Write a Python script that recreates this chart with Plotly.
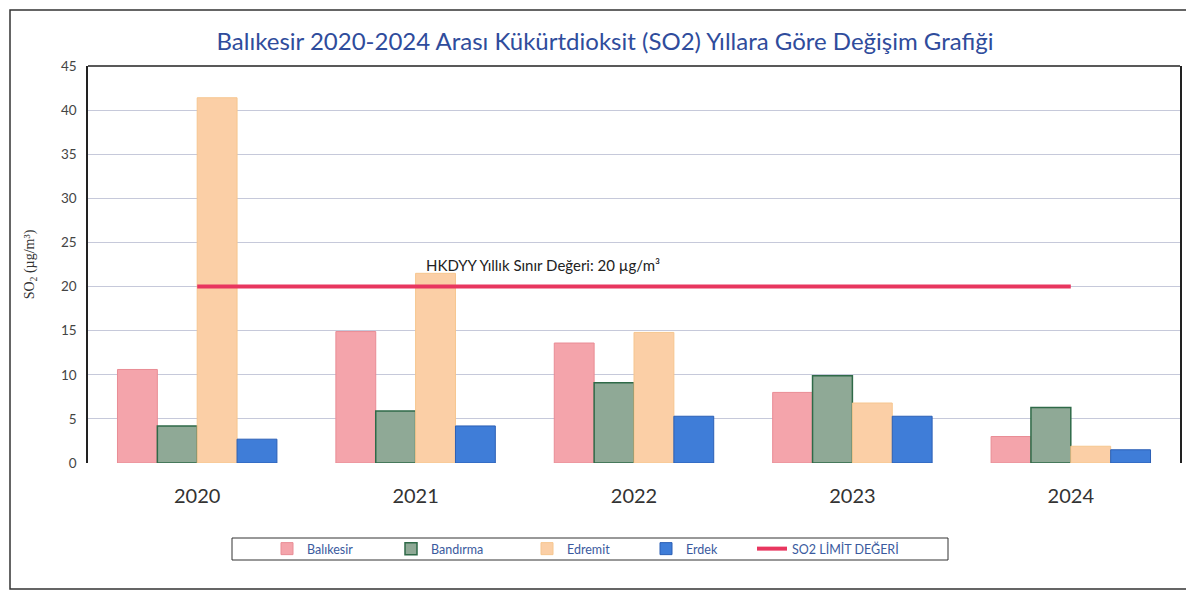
import plotly.graph_objects as go

years = ["2020", "2021", "2022", "2023", "2024"]
balikesir = [10.6, 14.9, 13.6, 8.0, 3.0]
bandirma = [4.2, 5.9, 9.1, 9.9, 6.3]
edremit = [41.4, 21.5, 14.8, 6.8, 1.9]
erdek = [2.7, 4.2, 5.3, 5.3, 1.5]
limit = [20, 20, 20, 20, 20]

title = "Balıkesir 2020-2024 Arası Kükürtdioksit (SO2) Yıllara Göre Değişim Grafiği"
note = "HKDYY Yıllık Sınır Değeri: 20 µg/m³"

# page body has an 8px margin: figure origin is at screen (8, 8)
O = 8
W, H = 1194 - O, 598 - O
L, R, T, B = 88 - O, 1180 - O, 66 - O, 463 - O
pw, ph = R - L, B - T


def px(x):  # screen x -> paper
    return (x - O - L) / pw


def py(y):  # screen y -> paper
    return (B - (y - O)) / ph


fig = go.Figure()
fig.add_bar(name="Balıkesir", x=years, y=balikesir, legend="legend",
            marker=dict(color="#F4A4AB", line=dict(color="#E98C95", width=1)))
fig.add_bar(name="Bandırma", x=years, y=bandirma, legend="legend2",
            marker=dict(color="#8FA996", line=dict(color="#2F6A48", width=1.5)))
fig.add_bar(name="Edremit", x=years, y=edremit, legend="legend3",
            marker=dict(color="#FBCFA6", line=dict(color="#F6C68F", width=1)))
fig.add_bar(name="Erdek", x=years, y=erdek, legend="legend4",
            marker=dict(color="#3F7DD8", line=dict(color="#2B5FB5", width=1)))
fig.add_scatter(name="SO2 LİMİT DEĞERİ", x=years, y=limit, mode="lines", legend="legend5",
                line=dict(color="#E8365F", width=4))

text_starts = [307, 431, 567, 686, 792]
leg_common = dict(orientation="h", yanchor="middle", y=py(549), xanchor="left",
                  font=dict(family="Lato", size=12.5, color="#3A5A9E"),
                  bgcolor="rgba(0,0,0,0)", borderwidth=0, itemwidth=30)
legends = {}
for i, ts in enumerate(text_starts):
    key = "legend" if i == 0 else f"legend{i + 1}"
    legends[key] = dict(leg_common, x=px(ts - 40))

fig.update_layout(
    width=W, height=H,
    margin=dict(l=L, r=W - R, t=T, b=H - B, autoexpand=False),
    paper_bgcolor="white", plot_bgcolor="white",
    barmode="group", bargap=0.27, bargroupgap=0,
    font=dict(family="Lato", color="#333"),
    title=dict(text=title, x=(605 - O) / W, xref="container", xanchor="center",
               y=1 - (42 - O) / H, yref="container", yanchor="middle",
               font=dict(family="Lato", size=24, color="#2F4C9C")),
    showlegend=True,
    **legends,
)
fig.update_xaxes(range=[-0.5, 4.5], showgrid=False, showline=False, ticks="",
                 automargin=False,
                 tickfont=dict(family="Lato", size=20, color="#333"),
                 ticklabelstandoff=19)
fig.update_yaxes(range=[0, 45], dtick=5, showgrid=True, gridcolor="#C6C9DA", gridwidth=1,
                 zeroline=False, showline=True, linecolor="#222", linewidth=1.5, mirror=True,
                 automargin=False,
                 ticks="", tickfont=dict(family="Lato", size=13.5, color="#444"),
                 ticklabelstandoff=7,
                 title=dict(text="SO<sub>2</sub> (µg/m³)", standoff=23,
                            font=dict(family="Liberation Serif", size=14, color="#333")))

fig.add_annotation(text=note, xref="paper", x=px(543), yref="y", y=22.4,
                   showarrow=False, font=dict(family="Lato", size=15, color="#222"))

shapes = [
    dict(type="line", xref="paper", yref="paper", x0=0, x1=1, y0=1, y1=1,
         line=dict(color="#222", width=1.5)),
    dict(type="rect", xref="paper", yref="paper", x0=px(232), x1=px(948), y0=py(560), y1=py(538),
         line=dict(color="#333", width=1)),
    dict(type="rect", xref="paper", yref="paper", x0=px(10), x1=px(1189), y0=py(589), y1=py(10),
         line=dict(color="#333", width=1.5)),
]
fig.update_layout(shapes=shapes)

fig.write_html("out.html")
